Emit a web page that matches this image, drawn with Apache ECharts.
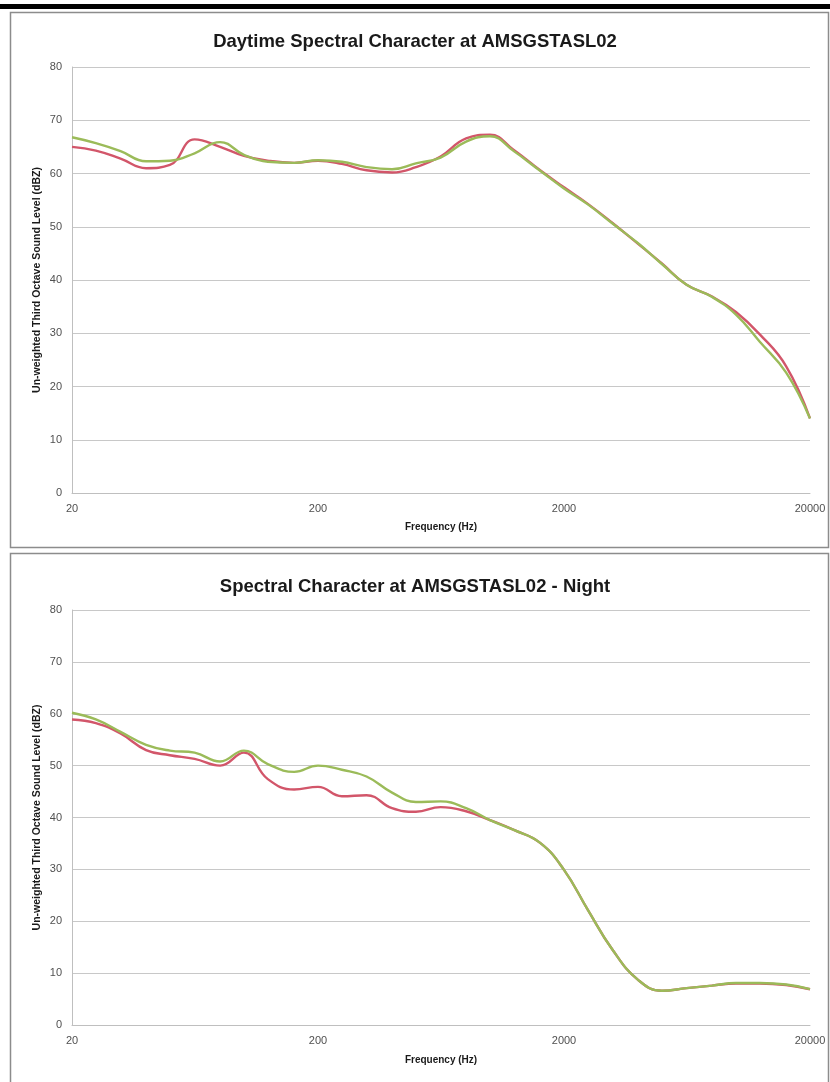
<!DOCTYPE html>
<html>
<head>
<meta charset="utf-8">
<title>Spectral Character at AMSGSTASL02</title>
<script src="https://cdn.jsdelivr.net/npm/echarts@6/dist/echarts.min.js"></script>
<style>
  html, body { margin: 0; padding: 0; background: #ffffff; }
  #chart { width: 830px; height: 1082px; }
</style>
</head>
<body>
<div id="chart"></div>
<script>
// Third-octave band centre frequencies (Hz)
const bands = [20, 25, 31.5, 40, 50, 63, 80, 100, 125, 160, 200, 250, 315, 400, 500, 630,
               800, 1000, 1250, 1600, 2000, 2500, 3150, 4000, 5000, 6300, 8000, 10000, 12500, 16000, 20000];

// Frequency tick labels
const freqTicks = [20, 200, 2000, 20000];

// Daytime spectra (dBZ)
const dayRed = [65.0, 64.3, 62.8, 61.0, 61.6, 66.4, 65.0, 63.3, 62.4, 62.0, 62.4, 61.8, 60.6, 60.2, 61.2, 63.2,
                66.6, 67.3, 64.4, 60.6, 57.4, 54.3, 50.7, 46.8, 43.1, 39.1, 36.9, 34.0, 29.8, 23.8, 14.0];
const dayGreen = [66.8, 65.7, 64.2, 62.3, 62.4, 63.8, 65.9, 63.5, 62.2, 62.0, 62.5, 62.2, 61.2, 60.8, 61.9, 63.0,
                  66.0, 67.0, 64.2, 60.5, 57.2, 54.2, 50.6, 46.9, 43.0, 39.1, 36.8, 33.5, 28.4, 22.6, 14.0];

// Night-time spectra (dBZ)
const nightRed = [58.9, 58.2, 56.2, 53.0, 52.0, 51.3, 50.0, 52.5, 47.4, 45.4, 45.9, 44.1, 44.3, 41.8, 41.1, 42.0,
                  41.2, 39.5, 37.6, 35.1, 29.9, 22.2, 14.5, 8.7, 6.6, 7.1, 7.6, 8.0, 8.0, 7.7, 6.9];
const nightGreen = [60.2, 58.9, 56.5, 54.0, 52.9, 52.5, 50.8, 52.9, 50.3, 48.8, 50.0, 49.2, 47.9, 44.8, 43.0, 43.1,
                    41.8, 39.5, 37.6, 35.1, 29.9, 22.2, 14.5, 8.7, 6.6, 7.1, 7.6, 8.1, 8.1, 7.8, 6.9];

const titles = ['Daytime Spectral Character at AMSGSTASL02', 'Spectral Character at AMSGSTASL02 - Night'];
const yName = 'Un-weighted Third Octave Sound Level (dBZ)';
const xName = 'Frequency (Hz)';

const FONT = '"Liberation Sans", Arial, sans-serif';
const RED = '#d2566a';
const GREEN = '#9bbb59';

// The frequency axis is logarithmic from 20 Hz to 20 kHz: decades above 20 Hz.
const toDecade = f => Math.log10(f / 20);
const pairs = vals => bands.map((f, i) => [toDecade(f), vals[i]]);

const grids = [
  { left: 72, right: 20, top: 67, height: 426 },
  { left: 72, right: 20, top: 610, height: 415 }
];

function xAxis(gridIndex, gap) {
  return {
    type: 'value', gridIndex: gridIndex, min: 0, max: 3, interval: 1,
    name: xName, nameLocation: 'middle', nameGap: gap,
    nameTextStyle: { fontFamily: FONT, fontWeight: 'bold', fontSize: 10, color: '#1a1a1a' },
    axisLine: { show: true, lineStyle: { color: '#bfbfbf', width: 1 } },
    axisTick: { show: false },
    splitLine: { show: false },
    axisLabel: {
      fontFamily: FONT, fontSize: 11, color: '#505050', margin: 10,
      formatter: v => {
        const f = Math.round(20 * Math.pow(10, v));
        return freqTicks.indexOf(f) >= 0 ? String(f) : '';
      }
    }
  };
}

function yAxis(gridIndex) {
  return {
    type: 'value', gridIndex: gridIndex, min: 0, max: 80, interval: 10,
    name: yName, nameLocation: 'middle', nameGap: 29, nameMoveOverlap: false,
    nameTextStyle: { fontFamily: FONT, fontWeight: 'bold', fontSize: 10.5, color: '#1a1a1a' },
    axisLine: { show: true, lineStyle: { color: '#bfbfbf', width: 1 } },
    axisTick: { show: false },
    splitLine: { show: true, lineStyle: { color: '#c8c8c8', width: 1 } },
    axisLabel: { fontFamily: FONT, fontSize: 11, color: '#505050', margin: 10 }
  };
}

function line(gridIndex, vals, color) {
  return {
    type: 'line', xAxisIndex: gridIndex, yAxisIndex: gridIndex,
    data: pairs(vals), smooth: 0.45, symbol: 'none',
    lineStyle: { color: color, width: 2.4 }, itemStyle: { color: color },
    animation: false
  };
}

const chart = echarts.init(document.getElementById('chart'), null, { renderer: 'canvas' });
chart.setOption({
  backgroundColor: '#ffffff',
  animation: false,
  title: [
    { text: titles[0], left: 'center', top: 27,
      textStyle: { fontFamily: FONT, fontWeight: 'bold', fontSize: 18.5, color: '#1a1a1a' } },
    { text: titles[1], left: 'center', top: 572,
      textStyle: { fontFamily: FONT, fontWeight: 'bold', fontSize: 18.5, color: '#1a1a1a' } }
  ],
  grid: grids,
  xAxis: [xAxis(0, 29), xAxis(1, 30)],
  yAxis: [yAxis(0), yAxis(1)],
  series: [
    line(0, dayRed, RED),
    line(0, dayGreen, GREEN),
    line(1, nightRed, RED),
    line(1, nightGreen, GREEN)
  ],
  graphic: [
    { type: 'rect', shape: { x: 0, y: 4, width: 830, height: 5 }, style: { fill: '#000000' }, z: 100 },
    { type: 'rect', shape: { x: 10.5, y: 12.5, width: 818, height: 535 },
      style: { fill: null, stroke: '#8c8c8c', lineWidth: 1.5 }, z: 100 },
    { type: 'rect', shape: { x: 10.5, y: 553.5, width: 818, height: 540 },
      style: { fill: null, stroke: '#8c8c8c', lineWidth: 1.5 }, z: 100 }
  ]
});
</script>
</body>
</html>
